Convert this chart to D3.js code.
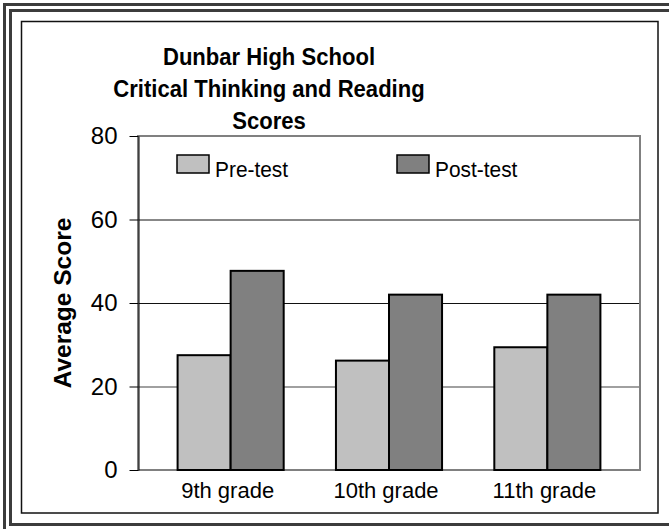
<!DOCTYPE html>
<html>
<head>
<meta charset="utf-8">
<script src="https://cdn.jsdelivr.net/npm/d3@7"></script>
<style>
  body { margin: 0; background: #fff; }
  svg { display: block; font-family: 'Liberation Sans', Arial, sans-serif; }
</style>
</head>
<body>
<div id="vis"></div>
<script>
// chart data
var grades = ['9th grade', '10th grade', '11th grade'];
var seriesNames = ['Pre-test', 'Post-test'];
var preTest = [27.5, 26.2, 29.4];
var postTest = [47.7, 42.0, 42.0];
var yTicks = [0, 20, 40, 60, 80];
var titleLines = ['Dunbar High School', 'Critical Thinking and Reading', 'Scores'];

var width = 669,
	height = 529;

var plot = { left: 138, right: 640, top: 136, bottom: 470 };
var font = "'Liberation Sans', Arial, sans-serif";

var colors = d3.scaleOrdinal()
	.domain(seriesNames)
	.range(['#c0c0c0', '#808080']);

var svg = d3.select('#vis')
	.append('svg')
	.attr('width', width)
	.attr('height', height);

// double frame + inner box
svg.append('rect')
	.attr('x', 4.5).attr('y', 4.5)
	.attr('width', 700).attr('height', 560)
	.attr('fill', 'none')
	.attr('stroke', '#3c3c3c')
	.attr('stroke-width', 3);

svg.append('rect')
	.attr('x', 10.5).attr('y', 10.5)
	.attr('width', 700).attr('height', 514)
	.attr('fill', 'none')
	.attr('stroke', '#3c3c3c')
	.attr('stroke-width', 3);

svg.append('rect')
	.attr('x', 21.5).attr('y', 21.5)
	.attr('width', 636.5).attr('height', 491.5)
	.attr('fill', 'none')
	.attr('stroke', '#111')
	.attr('stroke-width', 1.5);

var x0 = d3.scaleBand()
	.domain(grades)
	.range([plot.left, plot.right])
	.paddingInner(0.33)
	.paddingOuter(0.25);

var x1 = d3.scaleBand()
	.domain(seriesNames)
	.range([0, x0.bandwidth()]);

var y = d3.scaleLinear()
	.domain([0, 80])
	.range([plot.bottom, plot.top]);

// gridlines (the 20 line is grey in the original)
svg.append('g')
	.selectAll('line')
	.data(yTicks.filter(function(d) { return d > 0 && d < 80; }))
	.enter().append('line')
	.attr('x1', plot.left)
	.attr('x2', plot.right)
	.attr('y1', function(d) { return y(d) + 0.5; })
	.attr('y2', function(d) { return y(d) + 0.5; })
	.attr('stroke', function(d) { return d === 20 ? '#808080' : '#111'; })
	.attr('stroke-width', function(d) { return d === 20 ? 1.5 : 1; });

// plot frame (grey)
svg.append('rect')
	.attr('x', plot.left)
	.attr('y', y(80))
	.attr('width', plot.right - plot.left)
	.attr('height', y(0) - y(80))
	.attr('fill', 'none')
	.attr('stroke', '#808080')
	.attr('stroke-width', 2);

// bars
var rows = grades.map(function(g, i) {
	return { grade: g, values: [
		{ key: 'Pre-test', value: preTest[i] },
		{ key: 'Post-test', value: postTest[i] }
	] };
});

svg.append('g')
	.selectAll('g')
	.data(rows)
	.enter().append('g')
	.attr('transform', function(d) { return 'translate(' + x0(d.grade) + ',0)'; })
	.selectAll('rect')
	.data(function(d) { return d.values; })
	.enter().append('rect')
	.attr('x', function(d) { return x1(d.key); })
	.attr('y', function(d) { return y(d.value); })
	.attr('width', x1.bandwidth())
	.attr('height', function(d) { return y(0) - y(d.value); })
	.attr('fill', function(d) { return colors(d.key); })
	.attr('stroke', '#000')
	.attr('stroke-width', 2);

// y axis
var yAxis = d3.axisLeft(y)
	.tickValues(yTicks)
	.tickFormat(d3.format('d'))
	.tickSize(9)
	.tickSizeOuter(0)
	.tickPadding(12);

var yAxisG = svg.append('g')
	.attr('transform', 'translate(' + (plot.left + 0.5) + ',0)')
	.call(yAxis);
yAxisG.select('.domain').attr('stroke', '#000');
yAxisG.selectAll('line').attr('stroke', '#000');
yAxisG.selectAll('text')
	.attr('font-size', 24)
	.attr('fill', '#000')
	.attr('font-family', font);

// x axis labels
var xAxis = d3.axisBottom(x0)
	.tickSize(0)
	.tickPadding(12);

var xAxisG = svg.append('g')
	.attr('transform', 'translate(0,' + plot.bottom + ')')
	.call(xAxis);
xAxisG.select('.domain').remove();
xAxisG.selectAll('text')
	.attr('font-size', 22)
	.attr('dx', -3)
	.attr('fill', '#000')
	.attr('font-family', font);

// y axis title
svg.append('text')
	.attr('transform', 'translate(62,303) rotate(-90)')
	.attr('text-anchor', 'middle')
	.attr('dy', '0.35em')
	.attr('font-size', 24.5)
	.attr('font-weight', 'bold')
	.text('Average Score');

// title
svg.append('g')
	.selectAll('text')
	.data(titleLines)
	.enter().append('text')
	.attr('transform', function(d, i) { return 'translate(269,' + (65 + i * 32) + ') scale(0.92,1)'; })
	.attr('text-anchor', 'middle')
	.attr('font-size', 24)
	.attr('font-weight', 'bold')
	.text(function(d) { return d; });

// legend
var legendX = [177, 397];
var legend = svg.append('g')
	.selectAll('g')
	.data(seriesNames)
	.enter().append('g')
	.attr('transform', function(d, i) { return 'translate(' + legendX[i] + ',155)'; });

legend.append('rect')
	.attr('width', 32)
	.attr('height', 18)
	.attr('fill', function(d) { return colors(d); })
	.attr('stroke', '#000')
	.attr('stroke-width', 1.5);

legend.append('text')
	.attr('transform', 'translate(38,22) scale(0.95,1)')
	.attr('font-size', 22)
	.text(function(d) { return d; });
</script>
</body>
</html>
